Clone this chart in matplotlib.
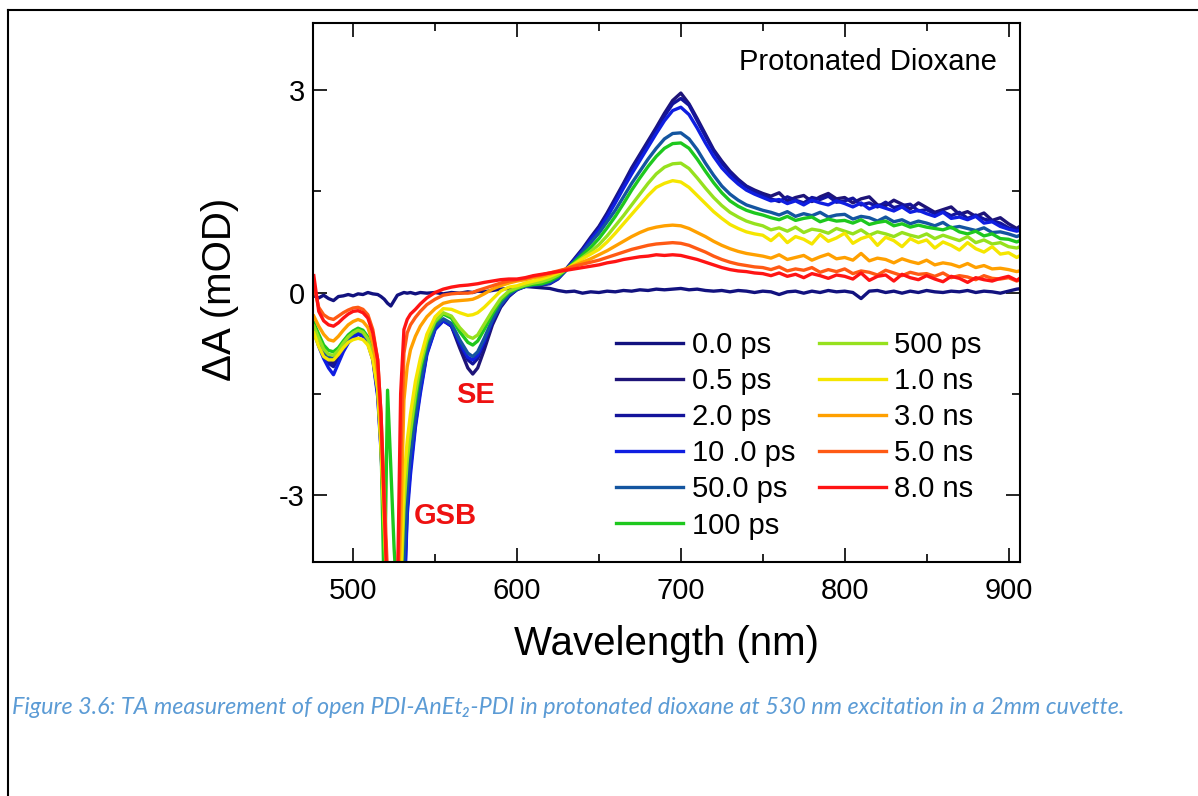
import numpy as np
import matplotlib.pyplot as plt
from matplotlib.lines import Line2D

plt.rcParams['font.family'] = ['Liberation Sans', 'DejaVu Sans']
plt.rcParams['axes.unicode_minus'] = False

# wavelength grid (nm): fine steps around the bleach, 5 nm steps on the red side
wl_blue_side = [476, 479, 482, 485, 488, 491, 494, 497, 500, 503,
                506, 509, 512, 515, 517, 519, 521, 523, 525, 527,
                529, 531, 533, 535, 538, 541, 545, 550, 555, 560,
                565, 570, 573, 576, 580, 585, 590, 595]
wl_red_side = list(range(600, 906, 5)) + [908]
wavelength = wl_blue_side + wl_red_side

delays = ['0.0 ps', '0.5 ps', '2.0 ps', '10 .0 ps', '50.0 ps', '100 ps',
          '500 ps', '1.0 ns', '3.0 ns', '5.0 ns', '8.0 ns']
colors = ['#12127f', '#1e1478', '#14149b', '#0f1ee1', '#1455a0', '#1ec81e',
          '#96e11e', '#f5e600', '#ffa000', '#ff5a14', '#ff1414']

# dA (mOD), blue side (38 pts) + red side (63 pts)
dA_0ps = [-0.05, -0.08, -0.04, -0.09, -0.12, -0.06, -0.05, -0.03, -0.05, -0.02,
          -0.03, 0.0, -0.02, -0.03, -0.06, -0.10, -0.16, -0.20, -0.12, -0.04,
          -0.02, 0.0, -0.01, 0.0, -0.02, 0.0, -0.01, 0.0, -0.02, 0.0,
          -0.01, 0.01, 0.0, 0.02, 0.01, 0.03, 0.05, 0.06,
          0.06, 0.09, 0.08, 0.07, 0.06, 0.03, 0.01, 0.02, -0.01, 0.01,
          0.0, 0.02, 0.01, 0.03, 0.02, 0.04, 0.03, 0.05, 0.04, 0.05,
          0.06, 0.04, 0.05, 0.03, 0.02, 0.03, 0.01, 0.03, 0.02, 0.0,
          0.02, 0.01, -0.03, 0.01, 0.02, -0.01, 0.02, 0.0, 0.03, 0.01,
          0.02, 0.0, -0.09, 0.02, 0.03, 0.0, 0.02, -0.01, 0.02, 0.0,
          0.03, 0.01, 0.0, 0.02, 0.01, 0.03, 0.0, 0.02, 0.01, -0.01,
          0.02, 0.05, 0.06]
dA_05ps = [-0.55, -0.75, -0.92, -1.02, -1.05, -0.95, -0.82, -0.72, -0.65, -0.60,
           -0.63, -0.72, -0.95, -1.45, -2.2, -3.3, -4.4, -5, -5, -5,
           -5, -4.4, -3.1, -2.5, -1.9, -1.42, -0.88, -0.52, -0.40, -0.50,
           -0.82, -1.12, -1.21, -1.12, -0.85, -0.48, -0.22, -0.06,
           0.05, 0.10, 0.12, 0.11, 0.14, 0.22, 0.35, 0.50, 0.65, 0.82,
           0.98, 1.18, 1.40, 1.62, 1.85, 2.05, 2.25, 2.45, 2.66, 2.85,
           2.96, 2.80, 2.58, 2.35, 2.12, 1.95, 1.80, 1.68, 1.58, 1.52,
           1.47, 1.43, 1.48, 1.36, 1.41, 1.44, 1.35, 1.42, 1.47, 1.39,
           1.41, 1.33, 1.39, 1.42, 1.30, 1.29, 1.37, 1.31, 1.24, 1.33,
           1.26, 1.19, 1.23, 1.27, 1.16, 1.20, 1.13, 1.18, 1.07, 1.11,
           1.02, 0.95, 1.00]
dA_2ps = [-0.52, -0.72, -0.90, -1.05, -1.10, -0.98, -0.85, -0.74, -0.66, -0.61,
          -0.64, -0.74, -0.98, -1.5, -2.3, -3.4, -4.5, -5, -5, -5,
          -5, -4.6, -3.2, -2.6, -1.95, -1.45, -0.9, -0.54, -0.42, -0.50,
          -0.76, -1.0, -1.06, -0.98, -0.76, -0.44, -0.2, -0.05,
          0.04, 0.09, 0.11, 0.12, 0.13, 0.20, 0.33, 0.48, 0.63, 0.80,
          0.96, 1.15, 1.37, 1.60, 1.82, 2.02, 2.22, 2.42, 2.62, 2.80,
          2.88, 2.78, 2.55, 2.32, 2.10, 1.92, 1.78, 1.66, 1.57, 1.50,
          1.44, 1.39, 1.35, 1.42, 1.37, 1.33, 1.41, 1.38, 1.43, 1.34,
          1.36, 1.40, 1.30, 1.33, 1.27, 1.34, 1.26, 1.29, 1.31, 1.21,
          1.23, 1.17, 1.20, 1.14, 1.19, 1.10, 1.15, 1.09, 1.06, 1.03,
          0.96, 0.93, 0.97]
dA_10ps = [-0.58, -0.80, -0.98, -1.12, -1.22, -1.05, -0.88, -0.75, -0.67, -0.62,
           -0.65, -0.76, -1.0, -1.55, -2.35, -3.5, -4.5, -5, -5, -5,
           -5, -4.7, -3.3, -2.7, -2.0, -1.5, -0.92, -0.55, -0.42, -0.49,
           -0.74, -0.96, -1.0, -0.93, -0.72, -0.42, -0.19, -0.04,
           0.05, 0.09, 0.12, 0.12, 0.14, 0.21, 0.34, 0.48, 0.62, 0.78,
           0.93, 1.12, 1.33, 1.55, 1.76, 1.96, 2.16, 2.36, 2.55, 2.70,
           2.75, 2.64, 2.44, 2.22, 2.02, 1.85, 1.72, 1.61, 1.52, 1.46,
           1.41, 1.36, 1.38, 1.32, 1.36, 1.30, 1.37, 1.33, 1.30, 1.36,
           1.32, 1.27, 1.33, 1.24, 1.29, 1.25, 1.21, 1.27, 1.19, 1.22,
           1.17, 1.13, 1.19, 1.10, 1.12, 1.08, 1.13, 1.03, 1.05, 0.98,
           0.94, 0.91, 0.93]
dA_50ps = [-0.50, -0.70, -0.86, -0.96, -0.98, -0.90, -0.78, -0.68, -0.61, -0.57,
           -0.60, -0.70, -0.92, -1.4, -2.2, -3.3, -4.4, -5, -5, -5,
           -4.8, -4.0, -2.95, -2.4, -1.85, -1.35, -0.85, -0.5, -0.39, -0.46,
           -0.70, -0.90, -0.95, -0.88, -0.68, -0.40, -0.18, -0.03,
           0.05, 0.09, 0.11, 0.12, 0.15, 0.22, 0.33, 0.46, 0.60, 0.74,
           0.88, 1.05, 1.22, 1.42, 1.62, 1.80, 1.98, 2.14, 2.28, 2.36,
           2.37, 2.28, 2.12, 1.92, 1.74, 1.58, 1.46, 1.37, 1.30, 1.26,
           1.22, 1.19, 1.15, 1.20, 1.13, 1.17, 1.14, 1.19, 1.12, 1.15,
           1.16, 1.09, 1.13, 1.11, 1.06, 1.12, 1.05, 1.08, 1.02, 1.06,
           1.03, 0.99, 1.04, 0.96, 0.98, 0.95, 0.92, 0.96, 0.89, 0.90,
           0.87, 0.83, 0.86]
dA_100ps = [-0.45, -0.62, -0.78, -0.86, -0.88, -0.82, -0.72, -0.63, -0.57, -0.53,
            -0.56, -0.66, -0.88, -1.35, -2.2, -4.6, -1.45, -2.6, -3.8, -4.6,
            -3.05, -2.8, -2.45, -2.1, -1.6, -1.15, -0.74, -0.44, -0.32, -0.38,
            -0.58, -0.74, -0.78, -0.72, -0.55, -0.32, -0.12, 0.0,
            0.06, 0.10, 0.12, 0.13, 0.17, 0.24, 0.34, 0.45, 0.56, 0.67,
            0.80, 0.96, 1.13, 1.32, 1.52, 1.70, 1.87, 2.02, 2.14, 2.21,
            2.22, 2.14, 1.98, 1.80, 1.63, 1.48, 1.36, 1.28, 1.22, 1.18,
            1.15, 1.11, 1.08, 1.13, 1.07, 1.10, 1.12, 1.05, 1.09, 1.06,
            1.07, 1.03, 1.08, 1.01, 1.04, 1.06, 0.99, 1.02, 0.97, 1.00,
            0.97, 0.95, 0.93, 0.97, 0.90, 0.87, 0.91, 0.84, 0.87, 0.80,
            0.79, 0.75, 0.78]
dA_500ps = [-0.50, -0.68, -0.84, -0.92, -0.93, -0.86, -0.75, -0.66, -0.60, -0.56,
            -0.59, -0.69, -0.92, -1.4, -2.25, -3.4, -4.5, -5, -5, -5,
            -4.5, -3.2, -2.5, -2.05, -1.5, -1.08, -0.70, -0.42, -0.30, -0.35,
            -0.52, -0.65, -0.68, -0.63, -0.47, -0.27, -0.09, 0.02,
            0.07, 0.11, 0.14, 0.16, 0.20, 0.26, 0.34, 0.43, 0.52, 0.61,
            0.71, 0.84, 0.99, 1.14, 1.30, 1.46, 1.62, 1.76, 1.86, 1.91,
            1.92, 1.84, 1.70, 1.55, 1.41, 1.29, 1.19, 1.12, 1.06, 1.02,
            0.99, 0.93, 0.96, 0.91, 0.97, 0.89, 0.94, 0.92, 0.88, 0.95,
            0.91, 0.87, 0.93, 0.85, 0.90, 0.87, 0.83, 0.89, 0.85, 0.82,
            0.87, 0.80, 0.85, 0.81, 0.77, 0.83, 0.74, 0.78, 0.72, 0.74,
            0.68, 0.66, 0.69]
dA_1ns = [-0.60, -0.80, -0.95, -1.0, -1.0, -0.92, -0.82, -0.74, -0.70, -0.68,
          -0.70, -0.78, -1.0, -1.45, -2.3, -3.5, -4.6, -5, -5, -5,
          -4.3, -2.8, -2.2, -1.8, -1.32, -0.98, -0.62, -0.36, -0.24, -0.25,
          -0.30, -0.34, -0.33, -0.30, -0.22, -0.10, 0.02, 0.08,
          0.10, 0.14, 0.17, 0.20, 0.24, 0.29, 0.35, 0.42, 0.50, 0.57,
          0.64, 0.75, 0.88, 1.02, 1.16, 1.30, 1.44, 1.56, 1.62, 1.66,
          1.64, 1.56, 1.44, 1.32, 1.20, 1.10, 1.01, 0.95, 0.90, 0.87,
          0.85, 0.77, 0.87, 0.74, 0.83, 0.79, 0.72, 0.86, 0.76, 0.81,
          0.88, 0.73, 0.80, 0.84, 0.70, 0.82, 0.77, 0.68, 0.80, 0.74,
          0.78, 0.66, 0.75, 0.70, 0.63, 0.74, 0.65, 0.60, 0.68, 0.57,
          0.59, 0.52, 0.56]
dA_3ns = [-0.35, -0.50, -0.62, -0.70, -0.72, -0.65, -0.56, -0.48, -0.43, -0.40,
          -0.43, -0.52, -0.75, -1.2, -2.0, -3.2, -4.4, -5, -5, -4.7,
          -3.5, -1.6, -1.1, -0.85, -0.65, -0.5, -0.36, -0.24, -0.16, -0.13,
          -0.12, -0.11, -0.10, -0.07, -0.02, 0.05, 0.10, 0.14,
          0.17, 0.19, 0.22, 0.24, 0.27, 0.31, 0.35, 0.40, 0.45, 0.50,
          0.56, 0.62, 0.69, 0.76, 0.83, 0.89, 0.94, 0.97, 0.99, 1.00,
          0.99, 0.95, 0.89, 0.83, 0.76, 0.70, 0.65, 0.61, 0.58, 0.56,
          0.54, 0.51, 0.56, 0.49, 0.52, 0.55, 0.48, 0.53, 0.57, 0.50,
          0.52, 0.48, 0.58, 0.47, 0.51, 0.49, 0.44, 0.50, 0.46, 0.43,
          0.48, 0.41, 0.44, 0.42, 0.38, 0.43, 0.37, 0.40, 0.35, 0.36,
          0.34, 0.31, 0.33]
dA_5ns = [0.10, -0.22, -0.33, -0.38, -0.40, -0.35, -0.30, -0.26, -0.23, -0.22,
          -0.25, -0.33, -0.55, -1.0, -1.8, -3.0, -4.2, -5, -5, -4.6,
          -2.5, -0.9, -0.6, -0.48, -0.37, -0.28, -0.18, -0.10, -0.04, -0.02,
          -0.01, -0.01, 0.0, 0.03, 0.06, 0.10, 0.14, 0.17,
          0.19, 0.21, 0.24, 0.26, 0.29, 0.32, 0.35, 0.39, 0.42, 0.45,
          0.48, 0.52, 0.56, 0.60, 0.64, 0.67, 0.70, 0.72, 0.73, 0.74,
          0.73, 0.70, 0.65, 0.60, 0.54, 0.49, 0.45, 0.42, 0.40, 0.38,
          0.37, 0.34, 0.38, 0.32, 0.35, 0.33, 0.37, 0.30, 0.34, 0.31,
          0.35, 0.28, 0.32, 0.30, 0.26, 0.33, 0.29, 0.25, 0.30, 0.27,
          0.28, 0.24, 0.29, 0.22, 0.25, 0.23, 0.19, 0.25, 0.21, 0.20,
          0.22, 0.17, 0.20]
dA_8ns = [0.25, -0.28, -0.42, -0.48, -0.50, -0.45, -0.38, -0.32, -0.28, -0.27,
          -0.30, -0.38, -0.60, -1.0, -1.8, -3.2, -4.6, -5, -5, -4.5,
          -1.5, -0.55, -0.40, -0.32, -0.25, -0.17, -0.08, 0.0, 0.05, 0.08,
          0.10, 0.11, 0.12, 0.13, 0.15, 0.17, 0.19, 0.20,
          0.20, 0.22, 0.25, 0.27, 0.29, 0.31, 0.33, 0.35, 0.37, 0.39,
          0.41, 0.44, 0.46, 0.49, 0.51, 0.53, 0.54, 0.56, 0.55, 0.56,
          0.55, 0.52, 0.49, 0.45, 0.41, 0.37, 0.34, 0.32, 0.31, 0.29,
          0.28, 0.25, 0.29, 0.24, 0.27, 0.22, 0.28, 0.25, 0.21, 0.26,
          0.24, 0.20, 0.29, 0.18, 0.24, 0.26, 0.17, 0.27, 0.22, 0.19,
          0.25, 0.20, 0.16, 0.24, 0.21, 0.15, 0.22, 0.19, 0.17, 0.21,
          0.24, 0.18, 0.23]

spectra = [dA_0ps, dA_05ps, dA_2ps, dA_10ps, dA_50ps, dA_100ps,
           dA_500ps, dA_1ns, dA_3ns, dA_5ns, dA_8ns]

caption = ('Figure 3.6: TA measurement of open PDI-AnEt\u2082-PDI in protonated dioxane '
           'at 530 nm excitation in a 2mm cuvette.')

W, H = 1198, 796
fig = plt.figure(figsize=(W / 100, H / 100), dpi=100)
ax = fig.add_axes([313 / W, 1 - 562 / H, 707 / W, 539 / H])

for s, c, lab in zip(spectra, colors, delays):
    ax.plot(wavelength, s, color=c, lw=2.4, label=lab)

ax.set_xlim(475.5, 907)
ax.set_ylim(-4, 4)
ax.set_xticks([500, 600, 700, 800, 900])
ax.set_xticks([550, 650, 750, 850], minor=True)
ax.set_yticks([-3, 0, 3])
ax.set_yticks([-1.5, 1.5], minor=True)
ax.tick_params(which='both', direction='in', top=True, right=True, width=1.2)
ax.tick_params(which='major', length=10, labelsize=21)
ax.tick_params(axis='x', which='major', pad=11)
ax.tick_params(axis='y', which='major', pad=6)
ax.tick_params(which='minor', length=6)
for sp in ax.spines.values():
    sp.set_linewidth(1.5)

ax.set_xlabel('Wavelength (nm)', fontsize=29, va='center')
ax.xaxis.set_label_coords(0.5, -0.153)
ax.set_ylabel('\u0394A (mOD)', fontsize=29, va='center')
ax.yaxis.set_label_coords(-0.131, 0.505)

ax.text(0.9675, 0.928, 'Protonated Dioxane', transform=ax.transAxes,
        ha='right', va='center', fontsize=21)
ax.text(575, -1.52, 'SE', color='#ee1111', fontsize=21, fontweight='bold',
        ha='center', va='center')
ax.text(556.5, -3.31, 'GSB', color='#ee1111', fontsize=21, fontweight='bold',
        ha='center', va='center')

ax.legend(ncol=2, frameon=False, fontsize=21, handlelength=2.3,
          handletextpad=0.3, columnspacing=0.8, labelspacing=0.28,
          loc='upper left', bbox_to_anchor=(0.4286, 0.429),
          borderaxespad=0, borderpad=0)

# page border and caption
fig.add_artist(Line2D([8 / W, 8 / W], [0, 1 - 10 / H], transform=fig.transFigure,
                      color='black', lw=1.5))
fig.add_artist(Line2D([8 / W, 1], [1 - 10 / H, 1 - 10 / H], transform=fig.transFigure,
                      color='black', lw=1.5))
fig.text(12 / W, 1 - 707 / H, caption, color='#5b9bd5', fontsize=16.8,
         style='italic', family=['Lato', 'DejaVu Sans'], va='center', ha='left')

fig.savefig('out.png', dpi=100)
